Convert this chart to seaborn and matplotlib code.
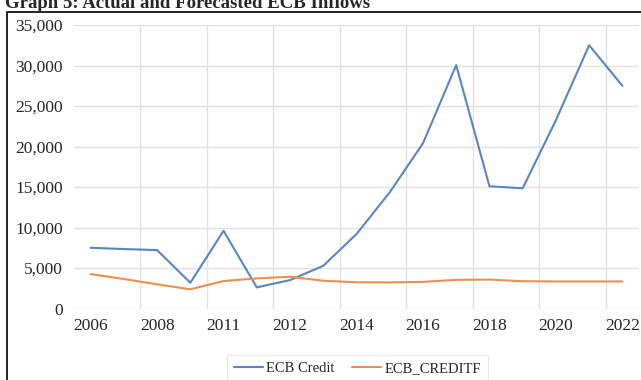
import numpy as np
import matplotlib
matplotlib.use("Agg")
import matplotlib.pyplot as plt
import matplotlib.ticker as mticker
from matplotlib.patches import Rectangle
import pandas as pd
import seaborn as sns

# values
years = list(range(2006, 2023))
ecb_credit = [7500, 7350, 7220, 3190, 9600, 2620, 3520, 5280, 9200, 14350,
              20400, 30050, 15100, 14850, 23250, 32500, 27500]
ecb_creditf = [4260, 3650, 3000, 2380, 3400, 3730, 3930, 3440, 3250, 3230,
               3300, 3550, 3580, 3380, 3350, 3350, 3350]
tick_years = years[::2]
tick_labels = ["2006", "2008", "2011", "2012", "2014", "2016", "2018", "2020", "2022"]
series_names = ["ECB Credit", "ECB_CREDITF"]
title = "Graph 5: Actual and Forecasted ECB Inflows"

df = pd.DataFrame({
    "Year": years * 2,
    "Value": ecb_credit + ecb_creditf,
    "Series": [series_names[0]] * len(years) + [series_names[1]] * len(years),
})

sns.set_style("white")
plt.rcParams["font.family"] = ["Liberation Serif", "DejaVu Serif"]

fig = plt.figure(figsize=(6.41, 3.80), dpi=100)
ax = fig.add_axes([74 / 641, 1 - 308.6 / 380, 565 / 641, (308.6 - 25) / 380])

sns.lineplot(data=df, x="Year", y="Value", hue="Series", ax=ax,
             palette=["#5B84C4", "#EA9050"], linewidth=1.5, legend=True)

ax.set_xlim(years[0] - 0.5, years[-1] + 0.5)
ax.set_ylim(0, 35000)
ax.set_yticks(np.arange(0, 35001, 5000))
ax.yaxis.set_major_formatter(mticker.FuncFormatter(lambda v, p: f"{int(v):,}"))
ax.set_xticks(tick_years)
ax.set_xticklabels(tick_labels)
ax.set_xticks([y + 0.5 for y in years[1:-1:2]], minor=True)
ax.tick_params(axis="both", which="both", length=0, labelsize=12.5)
ax.tick_params(axis="y", pad=8)
ax.tick_params(axis="x", pad=7)
ax.set_xlabel("")
ax.set_ylabel("")
ax.grid(axis="y", which="major", color="#e2e2e2", linewidth=1)
ax.grid(axis="x", which="minor", color="#e2e2e2", linewidth=1)
ax.grid(axis="x", which="major", visible=False)
ax.set_axisbelow(True)
for s in ax.spines.values():
    s.set_visible(False)

handles, labels = ax.get_legend_handles_labels()
ax.legend_.remove()
leg = fig.legend(handles, labels, loc="upper left",
                 bbox_to_anchor=(227 / 641, 1 - 355 / 380), borderaxespad=0,
                 ncol=2, frameon=True, fancybox=False, fontsize=10.5,
                 handlelength=2.0, handletextpad=0.25, columnspacing=1.2,
                 borderpad=0.45, edgecolor="#e4e4e4")
leg.get_frame().set_linewidth(0.8)

# chart border
fig.patches.append(Rectangle((7 / 641, -0.1), 1.1, 1 - 12 / 380 + 0.1,
                             transform=fig.transFigure, fill=False,
                             edgecolor="black", linewidth=1.2))

fig.text(5 / 641, 1 - 8 / 380, title, fontsize=13.5, fontweight="bold",
         va="baseline", ha="left")

fig.savefig("out.png", dpi=100)
